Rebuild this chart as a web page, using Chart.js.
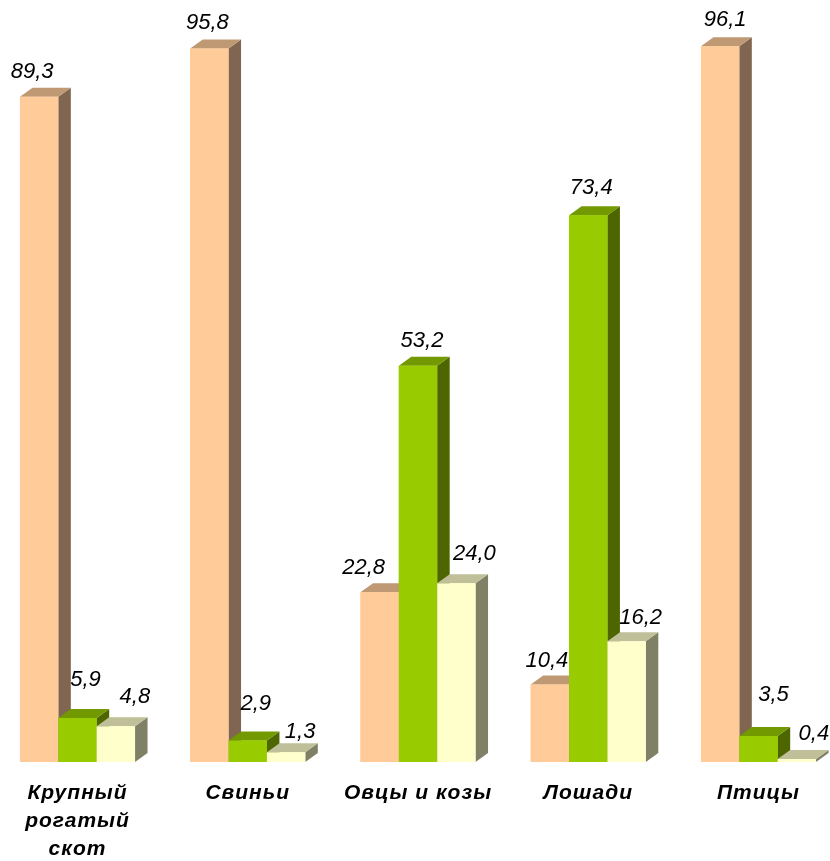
<!DOCTYPE html>
<html><head><meta charset="utf-8">
<script src="https://cdn.jsdelivr.net/npm/chart.js@4"></script>
<style>html,body{margin:0;padding:0;background:#fff;overflow:hidden}#w{position:relative;width:830px;height:861px}</style>
</head><body><div id="w"><canvas id="c"></canvas></div>
<script>
const categories = [["Крупный","рогатый","скот"],"Свиньи","Овцы и козы","Лошади","Птицы"];
const seriesA = [89.3,95.8,22.8,10.4,96.1];
const seriesB = [5.9,2.9,53.2,73.4,3.5];
const seriesC = [4.8,1.3,24.0,16.2,0.4];
const frontColors = ["#FFCC99","#99CC00","#FFFFCC"];
const topColors = ["#BF9973","#739900","#BFBF99"];
const sideColors = ["#806650","#4D6600","#808066"];
// hand placement of the value labels relative to each bar's top centre
const labelDx = [[-7,-2,-16,-3,5],[8,8,4,3,15],[19,14,18,14,17]];
const labelDy = [[-19,-19,-18,-18,-20],[-32,-30,-19,-21,-35],[-23,-14,-23,-17,-19]];
const depthX = 12.5, depthY = 9;

const faces3d = {
  id:"faces3d",
  beforeDraw(chart){ chart.ctx.letterSpacing = "1px"; },
  afterDatasetsDraw(chart){
    const ctx = chart.ctx;
    ctx.save();
    ctx.letterSpacing = "0px";
    chart.data.datasets.forEach((ds,i)=>{
      const meta = chart.getDatasetMeta(i);
      meta.data.forEach((bar,j)=>{
        const p = bar.getProps(["x","y","base","width"],true);
        const l = p.x-p.width/2, r = p.x+p.width/2, t = p.y, b = p.base;
        ctx.fillStyle = sideColors[i];
        ctx.beginPath();
        ctx.moveTo(r,t);ctx.lineTo(r+depthX,t-depthY);ctx.lineTo(r+depthX,b-depthY);ctx.lineTo(r,b);
        ctx.closePath();ctx.fill();
        ctx.fillStyle = topColors[i];
        ctx.beginPath();
        ctx.moveTo(l,t);ctx.lineTo(l+depthX,t-depthY);ctx.lineTo(r+depthX,t-depthY);ctx.lineTo(r,t);
        ctx.closePath();ctx.fill();
        bar.draw(ctx);
      });
    });
    ctx.fillStyle = "#000";
    ctx.font = "italic 22px 'Liberation Sans'";
    ctx.textAlign = "center";
    ctx.textBaseline = "alphabetic";
    chart.data.datasets.forEach((ds,i)=>{
      chart.getDatasetMeta(i).data.forEach((bar,j)=>{
        const p = bar.getProps(["x","y"],true);
        ctx.fillText(ds.data[j].toFixed(1).replace(".",","),p.x+labelDx[i][j],p.y+labelDy[i][j]);
      });
    });
    ctx.restore();
  }
};

new Chart(document.getElementById("c"),{
  type:"bar",
  data:{labels:categories,datasets:[seriesA,seriesB,seriesC].map((d,i)=>({data:d,backgroundColor:frontColors[i],borderWidth:0,clip:false}))},
  options:{
    responsive:true,maintainAspectRatio:false,animation:false,
    layout:{padding:{left:77.5,right:71.5,top:0,bottom:0}},
    categoryPercentage:0.676,barPercentage:1,
    plugins:{legend:{display:false},tooltip:{enabled:false},title:{display:false}},
    scales:{
      x:{offset:false,grid:{display:false,offset:false},border:{display:false},
         afterFit(s){s.height=99;},
         ticks:{autoSkip:false,maxRotation:0,minRotation:0,padding:9,color:"#000",
                font:{family:"'Liberation Sans'",size:21,weight:"bold",style:"italic",lineHeight:1.33}}},
      y:{display:false,min:0,max:102.3}
    }
  },
  plugins:[faces3d]
});
</script></body></html>
